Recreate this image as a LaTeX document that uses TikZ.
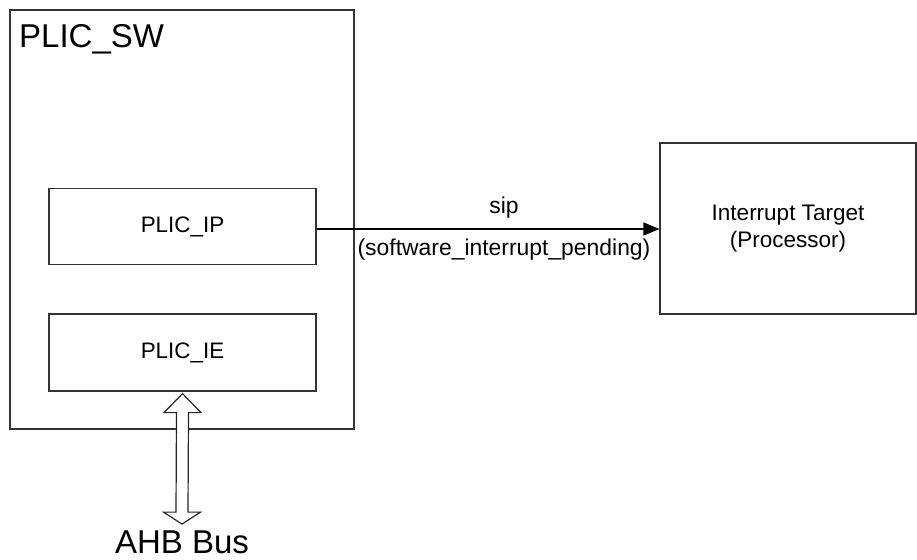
\documentclass[tikz,border=0pt]{standalone}
\usepackage{fontspec}
\setmainfont{Liberation Sans}
\usetikzlibrary{shapes,arrows,arrows.meta,positioning,calc}

\begin{document}
\begin{tikzpicture}[
    x=1pt, y=-1pt,
    block/.style={rectangle, draw=black!80, line width=1.2pt, inner sep=0pt},
    reg/.style={block, minimum width=267pt, minimum height=76pt, font=\fontsize{22.4}{26}\selectfont},
    lbl/.style={inner sep=0pt, font=\fontsize{22.9}{26}\selectfont},
    big/.style={inner sep=0pt, font=\fontsize{33}{36}\selectfont},
    arrow/.style={-{Triangle[length=16pt, width=13pt]}, line width=1.5pt},
    busline/.style={draw=black!85, line width=1.2pt, fill=white, line join=miter}
]
    \useasboundingbox (0,0) rectangle (917,559);
    \node[block, minimum width=344pt, minimum height=419pt] (sw) at (182,219.5) {};
    \node[big, anchor=base west] (swname) at (19,48) {PLIC\_SW};
    \node[reg] (ip) at (182.5,226.5) {PLIC\_IP};
    \node[reg, minimum height=77pt] (ie) at (182.5,352.5) {PLIC\_IE};
    \node[block, minimum width=256pt, minimum height=171pt, align=center,
          font=\fontsize{22.5}{27}\selectfont] (target) at (788,228.5) {Interrupt Target\\(Processor)};
    \node[big, anchor=base] (ahb) at (182,553) {AHB Bus};

    % bus arrow, hollow on both ends
    \coordinate (bustop) at ($(ie.south)+(0,2)$);
    \coordinate (busbot) at ($(ahb.north)+(0,-6)$);
    \draw[busline] (bustop) -- ++(18.5,19) -- ++(-12.5,0) -- ($(busbot)+(6,-12)$)
        -- ++(12.5,0) -- (busbot) -- ++(-18.5,-12) -- ++(12.5,0)
        -- ($(bustop)+(-6,19)$) -- ++(-12.5,0) -- cycle;

    \draw[arrow] ([yshift=-2.5pt]ip.east) -- ([yshift=-2.5pt]ip.east -| target.west);
    \node[lbl] (sip) at (504,207.5) {sip};
    \node[lbl] (pending) at (504,250) {(software\_interrupt\_pending)};
\end{tikzpicture}
\end{document}
